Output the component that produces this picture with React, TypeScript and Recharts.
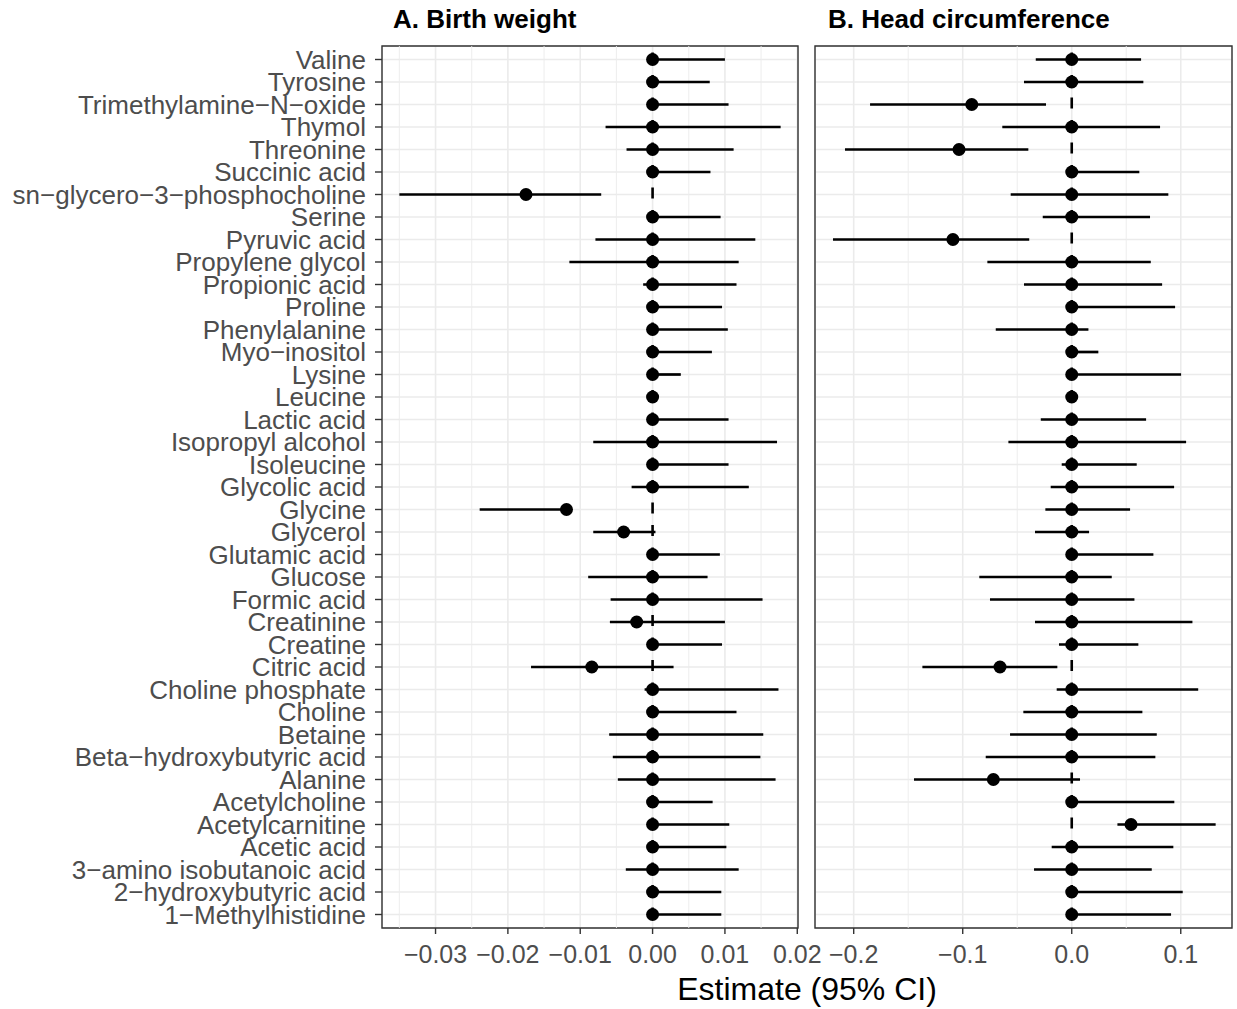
import {
  CartesianGrid,
  ErrorBar,
  ReferenceArea,
  ReferenceLine,
  Scatter,
  ScatterChart,
  XAxis,
  YAxis,
} from "recharts"

const FONT = "'Liberation Sans', Arial, Helvetica, sans-serif"

const metabolites = [
  "Valine",
  "Tyrosine",
  "Trimethylamine\u2212N\u2212oxide",
  "Thymol",
  "Threonine",
  "Succinic acid",
  "sn\u2212glycero\u22123\u2212phosphocholine",
  "Serine",
  "Pyruvic acid",
  "Propylene glycol",
  "Propionic acid",
  "Proline",
  "Phenylalanine",
  "Myo\u2212inositol",
  "Lysine",
  "Leucine",
  "Lactic acid",
  "Isopropyl alcohol",
  "Isoleucine",
  "Glycolic acid",
  "Glycine",
  "Glycerol",
  "Glutamic acid",
  "Glucose",
  "Formic acid",
  "Creatinine",
  "Creatine",
  "Citric acid",
  "Choline phosphate",
  "Choline",
  "Betaine",
  "Beta\u2212hydroxybutyric acid",
  "Alanine",
  "Acetylcholine",
  "Acetylcarnitine",
  "Acetic acid",
  "3\u2212amino isobutanoic acid",
  "2\u2212hydroxybutyric acid",
  "1\u2212Methylhistidine",
]

// A. Birth weight
const bwEst = [
  0, 0, 0, 0, 0, 0, -0.0175, 0, 0, 0, 0, 0, 0, 0, 0, 0, 0, 0, 0, 0, -0.0119,
  -0.004, 0, 0, 0, -0.0022, 0, -0.0084, 0, 0, 0, 0, 0, 0, 0, 0, 0, 0, 0,
]
const bwLow = [
  -0.0004, -0.0004, -0.0004, -0.0065, -0.0036, -0.0004, -0.035, -0.0004,
  -0.0079, -0.0115, -0.0013, -0.0004, -0.0004, -0.0004, -0.0004, -0.0003,
  -0.0004, -0.0082, -0.0004, -0.0029, -0.0239, -0.0082, -0.0004, -0.0089,
  -0.0058, -0.0059, -0.0004, -0.0168, -0.0011, -0.0004, -0.006, -0.0055,
  -0.0048, -0.0004, -0.0004, -0.0004, -0.0037, -0.0004, -0.0004,
]
const bwHigh = [
  0.01, 0.0079, 0.0105, 0.0177, 0.0112, 0.008, -0.0071, 0.0094, 0.0142, 0.0119,
  0.0116, 0.0096, 0.0104, 0.0082, 0.0039, 0.0003, 0.0105, 0.0172, 0.0105,
  0.0133, -0.0112, 0.0004, 0.0093, 0.0076, 0.0152, 0.01, 0.0096, 0.0029,
  0.0174, 0.0116, 0.0153, 0.0149, 0.017, 0.0083, 0.0106, 0.0102, 0.0119,
  0.0095, 0.0095,
]

// B. Head circumference
const hcEst = [
  0, 0, -0.0917, 0, -0.1034, 0, 0, 0, -0.109, 0, 0, 0, 0, 0, 0, 0, 0, 0, 0, 0,
  0, 0, 0, 0, 0, 0, 0, -0.0658, 0, 0, 0, 0, -0.0719, 0, 0.0544, 0, 0, 0, 0,
]
const hcLow = [
  -0.033, -0.0438, -0.185, -0.0637, -0.208, -0.003, -0.056, -0.0266, -0.219,
  -0.0774, -0.0438, -0.003, -0.0697, -0.003, -0.003, -0.002, -0.0284, -0.0581,
  -0.0092, -0.0193, -0.0242, -0.0337, -0.003, -0.0848, -0.075, -0.0337,
  -0.0117, -0.137, -0.0138, -0.0444, -0.0566, -0.0789, -0.1447, -0.003, 0.0419,
  -0.0184, -0.0346, -0.003, -0.003,
]
const hcHigh = [
  0.0636, 0.0657, -0.0236, 0.081, -0.0398, 0.062, 0.0886, 0.0718, -0.039,
  0.0725, 0.0829, 0.0948, 0.0153, 0.0244, 0.1003, 0.002, 0.0682, 0.1049, 0.0596,
  0.0939, 0.0535, 0.0159, 0.0749, 0.0367, 0.0575, 0.1107, 0.0611, -0.0132,
  0.116, 0.0648, 0.078, 0.0767, 0.0076, 0.0941, 0.132, 0.0932, 0.0734, 0.1018,
  0.0911,
]

const bwTicks = [-0.03, -0.02, -0.01, 0, 0.01, 0.02]
const bwMinor = [-0.035, -0.025, -0.015, -0.005, 0.005, 0.015]
const hcTicks = [-0.2, -0.1, 0, 0.1]
const hcMinor = [-0.15, -0.05, 0.05]

const rowTicks = metabolites.map((_, i) => i)
const Y_DOMAIN: [number, number] = [-0.6, metabolites.length - 0.4]

const fmt = (v: number, digits: number) =>
  (v < 0 ? "\u2212" : "") + Math.abs(v).toFixed(digits)

const Dot = (p: any) => <circle cx={p.cx} cy={p.cy} r={6.5} fill="#000" />

type PanelProps = {
  est: number[]
  low: number[]
  high: number[]
  domain: [number, number]
  ticks: number[]
  minor: number[]
  digits: number
  showLabels: boolean
  left: number
  width: number
  margin: { top: number; right: number; bottom: number; left: number }
}

function ForestPanel({
  est,
  low,
  high,
  domain,
  ticks,
  minor,
  digits,
  showLabels,
  left,
  width,
  margin,
}: PanelProps) {
  const rows = metabolites.map((name, i) => ({
    name,
    y: i,
    x: est[i],
    err: [est[i] - low[i], high[i] - est[i]],
  }))

  return (
    <div style={{ position: "absolute", left, top: 0 }}>
      <ScatterChart width={width} height={1009} margin={margin}>
        <CartesianGrid stroke="#ebebeb" strokeWidth={1.6} />
        {minor.map((m) => (
          <ReferenceLine key={m} x={m} stroke="#ebebeb" strokeWidth={0.9} />
        ))}
        <XAxis
          type="number"
          dataKey="x"
          domain={domain}
          ticks={ticks}
          interval={0}
          allowDataOverflow
          axisLine={false}
          tickLine={{ stroke: "#333333", strokeWidth: 1.4 }}
          tickSize={6}
          tickMargin={11}
          height={40}
          tick={{ fill: "#4d4d4d", fontSize: 25, fontFamily: FONT }}
          tickFormatter={(v: number) => fmt(v, digits)}
        />
        <YAxis
          type="number"
          dataKey="y"
          domain={Y_DOMAIN}
          ticks={rowTicks}
          interval={0}
          reversed
          allowDataOverflow
          hide={!showLabels}
          width={showLabels ? 382 : 0}
          axisLine={false}
          tickLine={{ stroke: "#333333", strokeWidth: 1.4 }}
          tickSize={7}
          tickMargin={9}
          tick={{ fill: "#4d4d4d", fontSize: 26, fontFamily: FONT }}
          tickFormatter={(i: number) => metabolites[i] ?? ""}
        />
        <ReferenceLine
          segment={[
            { x: 0, y: Y_DOMAIN[0] },
            { x: 0, y: Y_DOMAIN[1] },
          ]}
          stroke="#000"
          strokeWidth={2.6}
          strokeDasharray="11 11.5"
          strokeDashoffset={16}
        />
        <Scatter data={rows} isAnimationActive={false} shape={Dot}>
          <ErrorBar
            dataKey="err"
            direction="x"
            width={0}
            stroke="#000"
            strokeWidth={2.7}
            isAnimationActive={false}
          />
        </Scatter>
        <ReferenceArea
          x1={domain[0]}
          x2={domain[1]}
          y1={Y_DOMAIN[0]}
          y2={Y_DOMAIN[1]}
          fill="none"
          stroke="#333333"
          strokeWidth={1.4}
          ifOverflow="visible"
        />
      </ScatterChart>
    </div>
  )
}

export default function App() {
  return (
    <div
      style={{
        position: "absolute",
        left: 0,
        top: 0,
        width: 1237,
        height: 1009,
        background: "#fff",
        overflow: "hidden",
      }}
    >
      <ForestPanel
        est={bwEst}
        low={bwLow}
        high={bwHigh}
        domain={[-0.0374, 0.0201]}
        ticks={bwTicks}
        minor={bwMinor}
        digits={2}
        showLabels
        left={0}
        width={830}
        margin={{ top: 46, right: 32, bottom: 41, left: 0 }}
      />
      <ForestPanel
        est={hcEst}
        low={hcLow}
        high={hcHigh}
        domain={[-0.2355, 0.147]}
        ticks={hcTicks}
        minor={hcMinor}
        digits={1}
        showLabels={false}
        left={805}
        width={432}
        margin={{ top: 46, right: 5, bottom: 41, left: 10 }}
      />
      <svg
        width={1237}
        height={1009}
        style={{ position: "absolute", left: 0, top: 0, pointerEvents: "none" }}
      >
        <text x={393} y={28} fontFamily={FONT} fontSize={26} fontWeight="bold" fill="#000">
          A. Birth weight
        </text>
        <text x={828} y={28} fontFamily={FONT} fontSize={26} fontWeight="bold" fill="#000">
          B. Head circumference
        </text>
        <text x={807} y={1000} textAnchor="middle" fontFamily={FONT} fontSize={32} fill="#000">
          Estimate (95% CI)
        </text>
      </svg>
    </div>
  )
}
